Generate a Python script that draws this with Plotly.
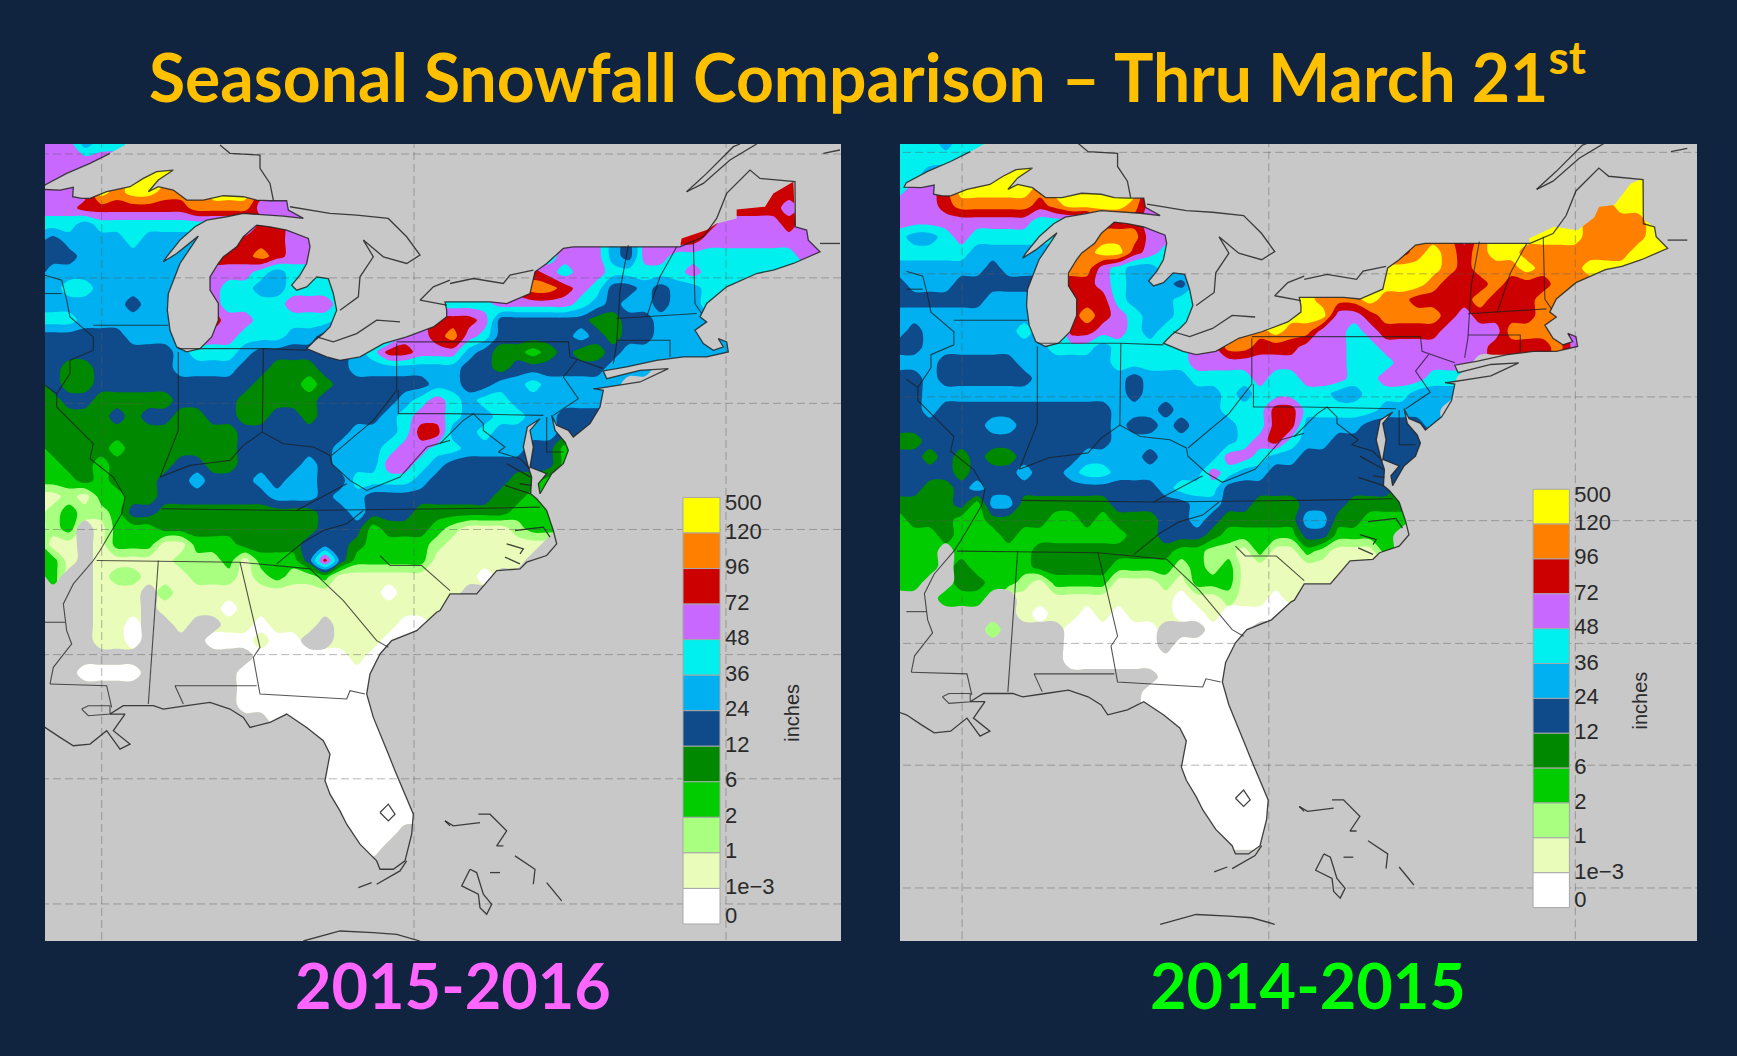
import plotly.graph_objects as go

TITLE = "Seasonal Snowfall Comparison – Thru March 21<sup>st</sup>"
SEASONS = ["2015-2016", "2014-2015"]
LEVEL_LABELS = ["500", "120", "96", "72", "48", "36", "24", "12", "6", "2", "1", "1e\u22123", "0"]
CLASS_KEYS = ".wabgdnscproy"
CLASS_COLORS = ["#c8c8c8", "#ffffff", "#e9fcb9", "#a9ff80", "#00cc00", "#008800", "#0f4a8a",
                "#00b0f0", "#00f0f0", "#c868ff", "#cc0000", "#ff8000", "#ffff00"]
BG = "#10243f"

G16 = [
"pppsc cc...",
"rpppp p.yy.",
"ppppp pyyyy yy... ..... ..... ..... ..... ..... ..... rrrr.",
"ppppy oyyoo ryyyr rp... ..... ..... ..... ..... ..... rrrr.",
"ppprr rrrrr oooop pp... ..... ..... ..... ..... ...rr rrpr.",
"cccsc ccccc ccccr rpp.. ..... ..... ..... ..... rrrpp pprpp",
"snsss scsss ssrrr rpp.. ..... ..... cccpp psnpp rrppp ppppp",
"nnnss sssss srrro rppp. ..... ..... cccpp psnpp ccccc cccpp",
"nssss sssss spppc sccc. ..... ...rr rrpcp pcccc cpccc cccc.",
"ssccs sssss spccs scccc ..... ...pr roorp cnnsn ssccc c....",
"sssss snsss ppccc cpppc c...c ccccp ppppc snssn sscc.",
"cccss sssss prppc ccccs ss.pp rrrpn nnnnn ddnns sssss",
"nnnnn nssss pppcc cssnn ssspp ropcn nnnns ndnns sssss",
"nnnnn nnnns cccsn nnnnn scrrp ppsnd dgdnd dnsss sssss",
"nnddn nnnns sssnn dddnn sssss ssnnd nnnnn nsss.",
"dnddn nnnnn nnnnd ddgdn nnnnn ssnns scsss ss...",
"gdnnd ddddn nnndd dddnn nnnsc pcscc sssss ss...",
"ddddd ndnnd dnndd nndnn nnscp pcssc cssnn nn...",
"ddddd ddddd dddnn nnnnn ssscr rsscs sssnn n....",
"gdddd gdddd dddnn nnnns sscpp ccsss snngg",
"ggddg ddddn nddnn nnsns ssppc snnnn nnng.",
"gggdg dddnn snnns nssnn ccccs nnnnn ddgg.",
"aabag gddnn nnnnn sssns snnnn nnnnd dgg..",
"abgbb gnndd ddddd dddnn snnnd ddddd ggg..",
"abg.a gggdd ddddd dddnn ngddd gbaaa bgg..",
"gaa.a gggaa gggdd ddnnn dgggg baaaa aa...",
"gga.a aaaab bbgag ggnrn ggggg aaaaa a....",
".g..a bbaaa bbbab gbbga aaaaa aaaw.",
"....a aa.ba aaaaa aaaaa aawaa aa...",
"....a aa.aa aawaa aaaaa aaaaa a....",
"....a aw..a ..aaw aaa.a aaaww",
"....a aw... .wwwa ww..a aawww",
"..... ..... ....w wwwww awww.",
"...ww ww... ...ww wwwww wwww.",
"..... ..... ...ww wwwww wwww.",
"..... ..... ...ww wwwww wwww.",
"..... ..... ..... wwwww wwww.",
"..... ..... ..... .wwww wwwww",
"..... ..... ..... ..www wwwww",
"..... ..... ..... ..www wwwww w",
"..... ..... ..... ..www wwwww w",
"..... ..... ..... ..www wwwww w",
"..... ..... ..... ..www wwwww w",
"..... ..... ..... ...ww www..",
"..... ..... ..... ...ww ww...",
".....",
]

G15 = [
"cccsc c....",
"ccccc c.yy.",
"ccs.. .yyyy yy... ..... ..... ..... ..... ..... ..... yyyyy",
"cppry yyyyo yyyyy y.... ..... ..... ..... ..... ....o yyyyy",
"pppro oooor oyyyy op... ..... ..... ..... ..... ..yyo oyyy.",
"ppppp ppppc cccrr rpp.. ..... ..... ..... ..... yyyyo oooyy",
"csscp ccccc coooo oppp. ..... ..... rrroo opoyy yyyyo oooyy",
"ccccc sssss sooyy rpcc. ..... ..... rrroy oroyy ooooo ooyyy",
"sssss snsss ooopc sscc. ..... ....y yyyyy orooo yoooy yy...",
"nsssn nnnnn rrrpc sssnc ..... ...yy yyyyo rrror rroo.",
"nnnnn nssss rrrrc ssscc ...yy yyooo yoorr rrorr roo..",
"sssss sssss rrorp csscs s..yy yyypp roooo rprrr rooo.",
"snsss ssscs srrpp csccc ppooy ooppc prrrr ppppo ooop.",
"nnsss sssss cccsc ccccp poorr rpppc cpppp ppprr rrop.",
"sssnn nnnss ssssc ccccp ppppp ppppc ccppp pp...",
"nnsnn nnnns sssss nsssc cccpc cpppc cpppc c....",
"nnsss sssss sssss nssss scscc cccss cccss s....",
"nnsnn nnnnn nnnns ssnss scccr rcccc cssss",
"nnnnn nssnn nnnns nnsns ssccr rssss nnnns",
"ddnnn nnnnn nnnns sssss sscpr cssnn nnnn.",
"nndnd nddnn nnsss snsss sppcs snnnn nnnn.",
"nnnnd nnnsn nsccs sssss pcssn nnnnn nnnn.",
"nnddn snnnn nnnnn nnscc cnnnn nnnnn nn...",
"ddddn gssdd ddddn nnnns snndd dnnnd ddd..",
"gdddg gdddd ggdgd ddnns ndddd dssdd ggg..",
"gggdg ggdgg ggggg ddnnn dgggg gnngg gg...",
"ggg.g ggggd ddddd dddgg bbaga agbaa ag...",
"ggg.d ggggd ddddg gggbg bgaaa aaaaa a....",
"gg..d dggba gggga aabag ggaaa aaa..",
"...gg g..aa aaaaa aaawa abaaw aa...",
"..... ...aw aawaw aaaww awwww w....",
"..... .b... .wwww ww... www..",
"..... ..... .wwww ww.ww wwww.",
"..... ..... .wwww wwwww wwww.",
"..... ..... ..... ..www wwww.",
"..... ..... ..... .wwww wwww.",
"..... ..... ..... .wwww wwwww",
"..... ..... ..... ..www wwwww w",
"..... ..... ..... ..www wwwww w",
"..... ..... ..... ..www wwwww w",
"..... ..... ..... ..www wwwww w",
"..... ..... ..... ..www wwwww w",
"..... ..... ..... ..www wwwww w",
"..... ..... ..... ..www wwwww w",
"..... ..... ..... ...ww wwww.",
"..... ..... ..... ..... wwww.",
]

# coastline and border traces, in crop pixels of the map (north-west, north-east, south-west, south-east)
C1, C2, C3, C4 = (30, 130), (440, 130), (30, 540), (440, 480)

SHORE_NORTH = [(-15,-18),(300,-18),(285,45),(240,70),(180,100),(110,130),(45,165),(38,178),(90,180),(130,172),(128,200),(155,205),(180,205),(230,185),(300,170),(340,145),(380,125),(430,120),(385,150),(355,185),(385,170),(430,180),(470,210),(520,210),(580,197),(640,200),(680,210),(720,212),(770,212),(775,240),(820,265),(760,258),(700,255),(640,250),(590,260),(530,270),(495,290),(450,330),(410,380),(400,395),(440,370),(505,318),(450,400),(415,490),(412,540),(420,600),(440,650),(470,665),(510,655),(545,620),(565,570),(565,520),(540,480),(540,440),(565,400),(580,380),(620,350),(640,320),(680,285),(720,290),(770,300),(835,325),(840,350),(830,400),(810,435),(785,465),(800,480),(830,470),(860,440),(895,445),(910,490),(920,540),(900,590),(880,610),(855,630),(830,655),(890,680),(930,690),(990,680),(1060,640),(1130,620),(1210,590),(1250,560)]
SHORE_NY = [(20,540),(15,515),(150,515),(200,520),(270,490),(285,425),(320,400),(370,355),(400,350),(720,350)]
MAINE_BORDER = [(790,320),(830,265),(860,190),(930,120),(960,145),(1065,155),(1066,290)]
MAINE_EDGE_16 = [(725,325),(800,300),(830,280),(890,265),(890,238),(975,230),(1000,190),(1060,155),(1066,290)]
MAINE_EDGE_15 = [(685,325),(760,290),(830,300),(880,262),(895,230),(940,225),(990,160),(1025,145),(1030,270)]
COAST_EAST = [(1100,300),(1105,330),(1140,365),(1060,400),(1000,420),(950,430),(860,470),(800,520),(780,560),(800,575),(765,600),(790,640),(820,660),(850,650),(835,625),(860,635),(865,665),(800,680),(730,680),(650,690),(560,710),(490,722),(500,745),(600,720),(685,715),(600,755),(470,775),(460,775),(490,780),(480,830),(450,880),(400,920),(385,900),(350,885),(335,855),(345,900),(375,935),(385,960),(370,1000),(335,1030),(300,1090),(295,1060),(320,1030),(270,1010),(280,950),(270,900),(300,865),(262,890),(250,950),(265,1010),(275,1040),(272,1090),(290,1105),(320,1140),(340,1200)]
COAST_NC = [(350,190),(320,225),(260,245),(240,265),(170,270),(110,340),(30,340),(0,390)]
COAST_SOUTH = [(1220,215),(1160,270),(1085,300),(1050,340),(1020,400),(1010,460),(1030,530),(1075,640),(1095,690),(1150,820),(1145,880),(1125,960),(1090,985),(1050,985),(1040,960),(990,910),(950,850),(930,810),(900,760),(885,720),(900,640),(880,600),(830,560),(770,520),(720,545),(660,560),(640,530),(600,505),(540,485),(470,495),(400,505),(370,495),(280,495),(240,520),(285,520),(250,570),(300,610),(270,625),(230,570),(180,610),(130,615),(90,590),(45,560),(-15,540)]

CANADA_C1 = [
 [(570,45),(600,70),(690,75),(690,115),(720,160),(730,210)],
 [(780,230),(900,250),(980,255),(1075,265),(1130,320),(1170,375),(1130,400),(1060,380),(1000,330),(1030,380),(990,440),(985,500),(930,540)],
 [(1250,525),(1170,510),(1210,470),(1260,450)],
 [(860,620),(910,635),(980,610),(1040,570),(1110,575)],
]
CANADA_C2 = [
 [(30,460),(100,445),(190,460),(210,435),(280,420)],
 [(740,185),(800,130),(880,50),(900,42)],
 [(740,185),(790,160),(870,90),(950,42)],
 [(1150,70),(1200,60)],
 [(1140,340),(1200,340)],
 [(200,1000),(272,1040)], [(240,1060),(275,1065)], [(195,1065),(272,1090)],
]
STATES_C1 = [
 [(45,435),(95,450),(110,510),(120,560),(190,620),(190,660),(120,690),(120,730),(80,790),(80,830),(150,900),(190,940),(180,985),(250,1040),(285,1100),(275,1150),(210,1260)],
 [(45,490),(95,490)], [(45,765),(80,790)], [(190,585),(415,585)],
 [(445,665),(445,900),(390,1040)], [(445,655),(700,655),(830,660)], [(700,655),(697,905)],
 [(390,1040),(480,1005),(560,995),(600,990),(640,945),(697,905),(760,940),(850,950),(900,975),(905,1000),(960,1050),(1010,1080),(1110,1040),(1190,950),(1260,930)],
 [(1100,640),(1100,780),(1030,870),(960,930),(905,975)],
 [(1105,780),(1105,850),(1260,850)], [(1100,635),(1260,635)],
 [(395,1135),(800,1140),(1260,1135)], [(800,1140),(950,1060)],
 [(1000,1140),(950,1180),(880,1200),(820,1235)],
]
STATES_C2 = [
 [(30,850),(310,855)], [(30,635),(385,635),(390,680),(490,715)], [(410,690),(370,740),(415,805),(340,855)],
 [(0,940),(70,870),(100,850),(130,880),(130,900),(195,950),(175,965),(240,985),(270,1015)],
 [(30,1135),(300,1130)],
 [(565,345),(540,480),(530,640),(520,700)], [(710,350),(660,440),(620,560)], [(530,565),(770,550)],
 [(530,630),(690,630),(690,680)], [(760,330),(765,520),(785,550)], [(320,860),(320,965),(370,965)],
]
STATES_C3 = [
 [(210,30),(190,60),(130,130),(100,190),(110,270),(125,310),(70,380),(60,430)],
 [(45,245),(105,245)], [(200,60),(630,65),(840,85)], [(385,60),(355,490)],
 [(630,65),(690,320),(670,350),(690,460),(950,475),(960,450),(1005,460)],
 [(435,435),(680,435)], [(435,435),(460,490)], [(840,85),(940,180),(1040,300),(1075,320)],
 [(1050,45),(1080,75),(1175,75),(1260,150)], [(60,430),(230,435),(245,500)], [(820,5),(740,70)],
 [(155,505),(175,495),(240,495),(240,520),(175,525),(155,505)],
]
ISLANDS_C3 = [
 [(1050,815),(1075,790),(1095,820),(1075,840),(1050,815)],
 [(985,1040),(1025,1025)], [(1040,1030),(1110,990),(1130,960)],
 [(1245,840),(1260,855)],
 [(820,1200),(930,1170),(1030,1175),(1100,1180),(1170,1200)],
]
ISLANDS_C4 = [
 [(15,1020),(40,1035),(120,1025)], [(115,1000),(150,1000),(200,1050),(170,1095),(190,1095)],
 [(90,1165),(110,1175),(130,1240),(155,1270),(140,1300),(120,1280),(115,1240),(65,1215),(90,1165)],
 [(225,1125),(285,1165),(280,1210)], [(320,1205),(365,1260)], [(150,1175),(180,1175)],
 [(225,150),(310,140),(330,170)], [(200,190),(250,205),(240,220)], [(195,230),(240,250)],
]

MERIDIANS = [56.7, 369, 681]
PARALLELS = [10, 133.7, 259, 385, 510, 634, 759]
RANGES = [((0, 796), (796, 0)), ((-6.5, 804.9), (813, 1.5))]
DOMAINS = [((45, 841), (144, 941)), ((900, 1697), (144, 941))]
W, H = 1737, 1056
BAR_TOP, BAR_STEP, BAR_X, BAR_W = 353, 35.5, 656.5, 37
LABEL_X = 680
LABEL_Y = [360, 389, 424, 460, 495, 531, 566, 602, 637, 673, 708, 744, 773]


def m(points, crop):
    return [(x / 3 + crop[0] - 45, y / 3 + crop[1] - 144) for x, y in points]


def m15(points):
    # points read in the 2014-15 north-east crop, brought back to the shared map frame
    return [((x / 3 + 400 - 6.4) / 0.981, (y / 3 - 14 + 1.5) / 0.981) for x, y in points]


def split_grid(rows):
    """Class grid -> colour field under the no-snow areas, plus masks for white and no-data."""
    g = [[CLASS_KEYS.index(c) for c in r.replace(" ", "").ljust(50, ".")[:50]] for r in rows]
    white = [[1 if v == 1 else 0 for v in r] for r in g]
    gray = [[1 if v == 0 else 0 for v in r] for r in g]
    base = [[v if v >= 2 else None for v in r] for r in g]
    ny, nx = len(base), len(base[0])
    while any(v is None for r in base for v in r):
        nxt = [r[:] for r in base]
        for j in range(ny):
            for i in range(nx):
                if base[j][i] is None:
                    near = [base[b][a] for a, b in ((i-1, j), (i+1, j), (i, j-1), (i, j+1))
                            if 0 <= a < nx and 0 <= b < ny and base[b][a] is not None]
                    if near:
                        nxt[j][i] = min(near)
        base = nxt
    return base, white, gray


def xy_lines(paths):
    xs, ys = [], []
    for p in paths:
        xs += [a for a, _ in p] + [None]
        ys += [b for _, b in p] + [None]
    return xs, ys


n = len(CLASS_COLORS) - 1
colorscale = []
for i, col in enumerate(CLASS_COLORS):
    colorscale.append([max(0, (i - 0.5) / n), col])
    colorscale.append([min(1, (i + 0.5) / n), col])


def flag_scale(col):
    return [[0, "rgba(255,255,255,0)"], [0.5, "rgba(255,255,255,0)"], [0.5, col], [1, col]]


GRID_X = [-8 + 16 * i for i in range(50)]
GRID_Y = [16 * j for j in range(46)]

fig = go.Figure()
north = m(SHORE_NORTH, C1) + m(SHORE_NY, C2)
east = m(COAST_EAST, C2) + m(COAST_NC, C4) + m(COAST_SOUTH, C3)
edges = [m(MAINE_EDGE_16, C2), m15(MAINE_EDGE_15)]
coast = north + m(MAINE_BORDER, C2) + east
boundaries = []
for p in STATES_C1: boundaries.append(m(p, C1))
for p in STATES_C2: boundaries.append(m(p, C2))
for p in STATES_C3: boundaries.append(m(p, C3))
others = []
for p in CANADA_C1: others.append(m(p, C1))
for p in CANADA_C2: others.append(m(p, C2))
for p in ISLANDS_C3: others.append(m(p, C3))
for p in ISLANDS_C4: others.append(m(p, C4))

for k, rows in enumerate([G16, G15]):
    xa = "x" if k == 0 else "x2"
    ya = "y" if k == 0 else "y2"
    oxa = "x3" if k == 0 else "x4"
    oya = "y3" if k == 0 else "y4"
    base, white, gray = split_grid(rows)
    fig.add_trace(go.Contour(
        x=GRID_X, y=GRID_Y, z=base, xaxis=xa, yaxis=ya, autocontour=False,
        contours=dict(start=0.5, end=11.5, size=1, coloring="fill", showlines=False),
        line=dict(width=0, smoothing=0.9), colorscale=colorscale, showscale=False, hoverinfo="skip"))
    for flags, col in ((white, CLASS_COLORS[1]), (gray, CLASS_COLORS[0])):
        fig.add_trace(go.Contour(
            x=GRID_X, y=GRID_Y, z=flags, xaxis=xa, yaxis=ya, autocontour=False, zmin=0, zmax=1,
            contours=dict(start=0.5, end=0.5, size=1, coloring="fill", showlines=False),
            line=dict(width=0, smoothing=1), colorscale=flag_scale(col), showscale=False, hoverinfo="skip"))
    land = north + edges[k] + east
    hole = list(reversed(land))
    y0 = hole[0][1]
    mask = [(-60, -60), (860, -60), (860, 860), (-60, 860), (-60, y0)] + hole + [hole[0], (-60, y0)]
    fig.add_trace(go.Scatter(x=[a for a, _ in mask], y=[b for _, b in mask], xaxis=xa, yaxis=ya, mode="lines",
                             fill="toself", fillcolor=CLASS_COLORS[0], line=dict(width=0), hoverinfo="skip", showlegend=False))
    gx, gy = xy_lines([[(v, -40), (v, 860)] for v in MERIDIANS] + [[(-40, v), (860, v)] for v in PARALLELS])
    fig.add_trace(go.Scatter(x=gx, y=gy, xaxis=xa, yaxis=ya, mode="lines", hoverinfo="skip", showlegend=False,
                             line=dict(color="rgba(90,90,90,0.45)", width=1, dash="8px,4px")))
    bx, by = xy_lines(boundaries)
    fig.add_trace(go.Scatter(x=bx, y=by, xaxis=xa, yaxis=ya, mode="lines", hoverinfo="skip", showlegend=False,
                             line=dict(color="rgba(30,30,30,0.75)", width=1.1)))
    ox, oy = xy_lines(others + [coast[3:]])
    fig.add_trace(go.Scatter(x=ox, y=oy, xaxis=xa, yaxis=ya, mode="lines", hoverinfo="skip", showlegend=False,
                             line=dict(color="rgba(35,35,35,0.85)", width=1.3)))
    fig.add_trace(go.Bar(
        x=[BAR_X] * 12, y=[BAR_STEP] * 12, base=[BAR_TOP + BAR_STEP * i for i in range(12)], width=BAR_W,
        xaxis=oxa, yaxis=oya, hoverinfo="skip", showlegend=False,
        marker=dict(color=CLASS_COLORS[:0:-1], line=dict(color="#a8a8a8", width=1))))
    fig.add_trace(go.Scatter(
        x=[LABEL_X] * 13, y=LABEL_Y, text=LEVEL_LABELS, xaxis=oxa, yaxis=oya, mode="text", textposition="middle right",
        textfont=dict(family="Liberation Sans", size=22, color="#2a2a2a"), hoverinfo="skip", showlegend=False))

annotations = [
    dict(text=f"<b>{TITLE}</b>", xref="paper", yref="paper", x=867.5 / W, y=1 - 72 / H, showarrow=False,
         font=dict(family="Lato", size=66, color="#ffc000"), xanchor="center", yanchor="middle"),
    dict(text=f"<b>{SEASONS[0]}</b>", xref="paper", yref="paper", x=453 / W, y=1 - 984 / H, showarrow=False,
         font=dict(family="Lato", size=63, color="#ff66ff"), xanchor="center", yanchor="middle"),
    dict(text=f"<b>{SEASONS[1]}</b>", xref="paper", yref="paper", x=1308 / W, y=1 - 984 / H, showarrow=False,
         font=dict(family="Lato", size=63, color="#00ff00"), xanchor="center", yanchor="middle"),
    dict(text="inches", xref="x", yref="y", x=747, y=568, showarrow=False, textangle=-90,
         font=dict(family="Liberation Sans", size=20, color="#2a2a2a")),
    dict(text="inches", xref="x2", yref="y2", x=747, y=568, showarrow=False, textangle=-90,
         font=dict(family="Liberation Sans", size=20, color="#2a2a2a")),
]

layout = dict(width=W, height=H, margin=dict(l=0, r=0, t=0, b=0), paper_bgcolor=BG, plot_bgcolor=CLASS_COLORS[0],
              showlegend=False, barmode="overlay", annotations=annotations)
for k in range(2):
    (xr, yr), ((x0, x1), (y0, y1)) = RANGES[k], DOMAINS[k]
    sx, sy = "" if k == 0 else "2", "" if k == 0 else "2"
    base_ax = dict(visible=False, fixedrange=True)
    layout[f"xaxis{sx}"] = dict(domain=[x0 / W, x1 / W], range=list(xr), anchor=f"y{sy}", **base_ax)
    layout[f"yaxis{sy}"] = dict(domain=[1 - y1 / H, 1 - y0 / H], range=list(yr), anchor=f"x{sx}", **base_ax)
    o = 3 + k
    layout[f"xaxis{o}"] = dict(range=list(xr), overlaying=f"x{sx}", anchor=f"y{o}", **base_ax)
    layout[f"yaxis{o}"] = dict(range=list(yr), overlaying=f"y{sy}", anchor=f"x{o}", **base_ax)
fig.update_layout(**layout)
soften = ("document.body.style.margin='0';document.body.style.background='%s';"
          "document.querySelectorAll('.cartesianlayer .plot').forEach(function(e){e.style.filter='blur(0.6px)';});" % BG)
fig.write_html("out.html", post_script=soften, config=dict(displayModeBar=False))
